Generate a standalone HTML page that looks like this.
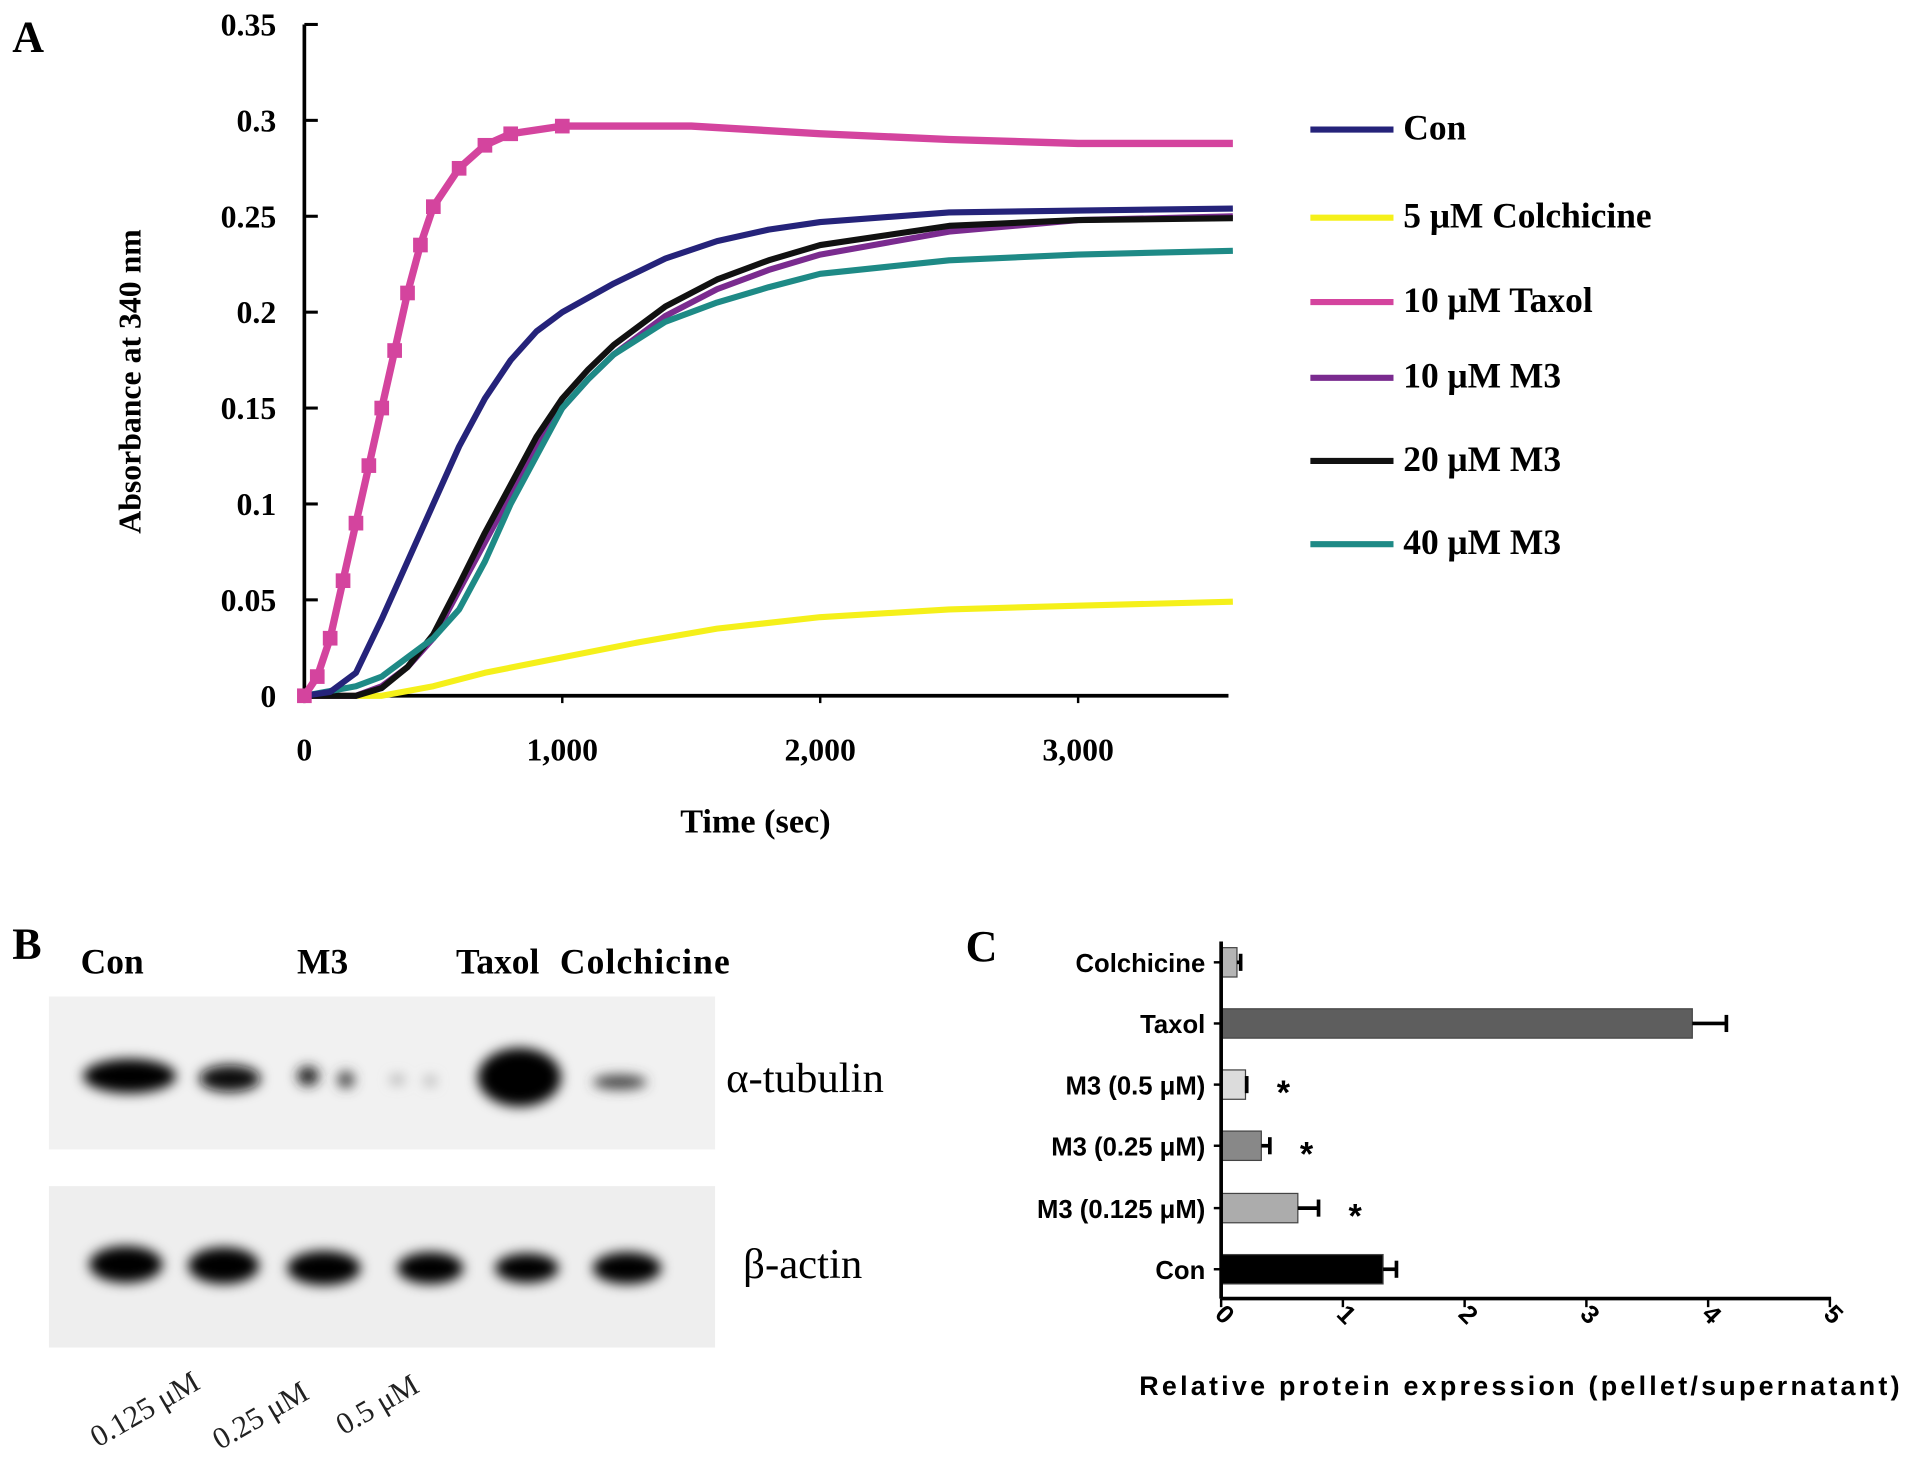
<!DOCTYPE html>
<html><head><meta charset="utf-8"><style>
html,body{margin:0;padding:0;background:#fff;}
svg{display:block;}
.serif{font-family:"Liberation Serif",serif;font-weight:bold;}
.sans{font-family:"Liberation Sans",sans-serif;font-weight:bold;}
</style></head><body>
<svg id="fig" width="1913" height="1460" viewBox="0 0 1565 1194" preserveAspectRatio="none" xmlns="http://www.w3.org/2000/svg">
<defs>
<filter id="blur" x="-50%" y="-50%" width="200%" height="200%"><feGaussianBlur stdDeviation="5"/></filter>
</defs>
<text x="10" y="42" class="serif" font-size="36">A</text>
<g id="chartA"></g>
<text x="618" y="681" class="serif" font-size="28" text-anchor="middle">Time (sec)</text>
<text transform="translate(115,312) rotate(-90)" class="serif" font-size="26" text-anchor="middle">Absorbance at 340 nm</text>
<g id="legendA"></g>

<text x="10" y="784" class="serif" font-size="36">B</text>
<g class="serif" font-size="29">
<text x="66" y="796">Con</text>
<text x="243" y="796">M3</text>
<text x="373" y="796">Taxol</text>
<text x="458" y="796" textLength="139">Colchicine</text>
</g>
<g>
<rect x="40" y="815" width="545" height="125" fill="#f1f1f1"/>
<rect x="40" y="970" width="545" height="132" fill="#eeeeee"/>
<g filter="url(#blur)" fill="#000">
<ellipse cx="106" cy="880" rx="38" ry="14"/>
<ellipse cx="188" cy="882" rx="25" ry="11" fill="#111"/>
<ellipse cx="252" cy="880" rx="9" ry="8" fill="#222"/>
<ellipse cx="283" cy="883" rx="7" ry="7" fill="#444"/>
<ellipse cx="325" cy="883" rx="6" ry="4" fill="#aaa"/>
<ellipse cx="352" cy="884" rx="5" ry="4" fill="#aaa"/>
<ellipse cx="425" cy="881" rx="34" ry="24"/>
<ellipse cx="507" cy="885" rx="22" ry="6" fill="#444"/>
<ellipse cx="103" cy="1034" rx="30" ry="15"/>
<ellipse cx="183" cy="1035" rx="29" ry="15"/>
<ellipse cx="265" cy="1037" rx="30" ry="14"/>
<ellipse cx="352" cy="1037" rx="27" ry="13"/>
<ellipse cx="431" cy="1037" rx="26" ry="12"/>
<ellipse cx="513" cy="1037" rx="28" ry="13"/>
</g>
</g>
<text x="594" y="893" font-family="Liberation Serif,serif" font-size="35">α-tubulin</text>
<text x="608" y="1045" font-family="Liberation Serif,serif" font-size="35">β-actin</text>
<g font-family="Liberation Serif,serif" font-size="25" fill="#222">
<text transform="translate(80,1184) rotate(-30)">0.125 μM</text>
<text transform="translate(180,1186) rotate(-30)">0.25 μM</text>
<text transform="translate(281,1174) rotate(-30)">0.5 μM</text>
</g>

<text x="790" y="786" class="serif" font-size="36">C</text>
<g id="chartC"></g>
<text x="932" y="1141" class="sans" font-size="22" textLength="622">Relative protein expression  (pellet/supernatant)</text>

<script>
// ---------- Panel A data ----------
const seriesNames = ["Con","5 μM Colchicine","10 μM Taxol","10 μM M3","20 μM M3","40 μM M3"];
const seriesColors = ["#25237a","#f5f01a","#d4449e","#7a2b8f","#111111","#1e8a86"];
const timeCon = [0,100,200,300,400,500,600,700,800,900,1000,1200,1400,1600,1800,2000,2500,3000,3600];
const valsCon = [0,0.002,0.012,0.04,0.07,0.1,0.13,0.155,0.175,0.19,0.2,0.215,0.228,0.237,0.243,0.247,0.252,0.253,0.254];
const timeCol = [0,300,500,700,1000,1300,1600,2000,2500,3000,3600];
const valsCol = [0,0,0.005,0.012,0.02,0.028,0.035,0.041,0.045,0.047,0.049];
const timeTax = [0,50,100,150,200,250,300,350,400,450,500,600,700,800,1000,1500,2000,2500,3000,3600];
const valsTax = [0,0.01,0.03,0.06,0.09,0.12,0.15,0.18,0.21,0.235,0.255,0.275,0.287,0.293,0.297,0.297,0.293,0.29,0.288,0.288];
const timeM3 = [0,200,300,400,500,600,700,800,900,1000,1100,1200,1400,1600,1800,2000,2500,3000,3600];
const valsM3_10 = [0,0,0.005,0.015,0.03,0.055,0.08,0.105,0.13,0.15,0.165,0.178,0.198,0.212,0.222,0.23,0.242,0.248,0.25];
const valsM3_20 = [0,0,0.004,0.015,0.032,0.058,0.085,0.11,0.135,0.155,0.17,0.183,0.203,0.217,0.227,0.235,0.245,0.248,0.249];
const valsM3_40 = [0,0.005,0.01,0.02,0.03,0.045,0.07,0.1,0.125,0.15,0.165,0.178,0.195,0.205,0.213,0.22,0.227,0.23,0.232];
const yTicksA = [0,0.05,0.1,0.15,0.2,0.25,0.3,0.35];
const yTickLabelsA = ["0","0.05","0.1","0.15","0.2","0.25","0.3","0.35"];
const xTicksA = [0,1000,2000,3000];
const xTickLabelsA = ["0","1,000","2,000","3,000"];
// ---------- Panel C data ----------
const catsC = ["Colchicine","Taxol","M3 (0.5 μM)","M3 (0.25 μM)","M3 (0.125 μM)","Con"];
const valsC = [0.13,3.87,0.2,0.33,0.63,1.33];
const errsC = [0.03,0.28,0.01,0.07,0.17,0.11];
const starsC = ["","","*","*","*",""];
const colorsC = ["#b5b5b5","#5e5e5e","#dcdcdc","#888888","#acacac","#000000"];
const xTicksC = [0,1,2,3,4,5];

const NS="http://www.w3.org/2000/svg";
function mk(tag,attrs,parent,txt){const e=document.createElementNS(NS,tag);for(const k in attrs)e.setAttribute(k,attrs[k]);if(txt!==undefined)e.textContent=txt;parent.appendChild(e);return e;}

const xA=t=>249+t*0.211;
const yA=v=>569-v*(549/0.35);
const gA=document.getElementById('chartA');
let ax=mk('line',{x1:249,y1:20,x2:249,y2:569,stroke:'#000','stroke-width':3},gA);


ax=mk('line',{x1:249,y1:569,x2:1005,y2:569,stroke:'#000','stroke-width':3},gA);


yTicksA.forEach((v,i)=>{
  mk('line',{x1:249,y1:yA(v),x2:260,y2:yA(v),stroke:'#000','stroke-width':2.5},gA);
  const t=mk('text',{x:226,y:yA(v)+9,'text-anchor':'end','class':'serif','font-size':26},gA,yTickLabelsA[i]);
  
  
});
xTicksA.forEach((v,i)=>{
  mk('line',{x1:xA(v),y1:569,x2:xA(v),y2:575,stroke:'#000','stroke-width':2},gA);
  const t=mk('text',{x:xA(v),y:622,'text-anchor':'middle','class':'serif','font-size':26},gA,xTickLabelsA[i]);
  
  
});
const seriesData=[[timeCon,valsCon],[timeCol,valsCol],[timeTax,valsTax],[timeM3,valsM3_10],[timeM3,valsM3_20],[timeM3,valsM3_40]];
const drawOrder=[1,3,4,5,0,2];
drawOrder.forEach(si=>{
  const [ts,vs]=seriesData[si];
  const pts=ts.map((t,i)=>xA(t).toFixed(1)+','+yA(vs[i]).toFixed(1)).join(' ');
  const pl=mk('polyline',{points:pts,fill:'none',stroke:seriesColors[si],'stroke-width':si==2?6:5,'stroke-linejoin':'round'},gA);
  
  
  if(si==2){ts.forEach((t,i)=>{if(t<=1000){const m=mk('rect',{x:xA(t)-6,y:yA(vs[i])-6,width:12,height:12,fill:seriesColors[si]},gA);}});}
});
const gL=document.getElementById('legendA');
const legY=[104,176,245,307,375,443];
seriesNames.forEach((n,i)=>{
  const l=mk('line',{x1:1072,y1:legY[i]+2,x2:1140,y2:legY[i]+2,stroke:seriesColors[i],'stroke-width':5},gL);
  
  
  const t=mk('text',{x:1148,y:legY[i]+10,'class':'serif','font-size':29},gL,n);
  
  
});

const xC=v=>999+v*99.6;
const yC=[787,837,887,937,988,1038];
const gC=document.getElementById('chartC');
catsC.forEach((c,i)=>{
  const b=mk('rect',{x:xC(0),y:yC[i]-12,width:xC(valsC[i])-xC(0),height:24,fill:colorsC[i],stroke:'#444','stroke-width':1},gC);
  
  
  const xe=xC(valsC[i]+errsC[i]);
  mk('line',{x1:xC(valsC[i]),y1:yC[i],x2:xe,y2:yC[i],stroke:'#000','stroke-width':3},gC);
  mk('line',{x1:xe,y1:yC[i]-7,x2:xe,y2:yC[i]+7,stroke:'#000','stroke-width':3},gC);
  const t=mk('text',{x:986,y:yC[i]+8,'text-anchor':'end','class':'sans','font-size':21},gC,c);
  
  
  mk('line',{x1:993,y1:yC[i],x2:999,y2:yC[i],stroke:'#000','stroke-width':2},gC);
  if(starsC[i]){const s=mk('text',{x:xe+30,y:yC[i]+16,'class':'sans','font-size':28,'text-anchor':'middle'},gC,starsC[i]);}
});
let a2=mk('line',{x1:999,y1:770,x2:999,y2:1062,stroke:'#000','stroke-width':3},gC);


a2=mk('line',{x1:999,y1:1062,x2:1498,y2:1062,stroke:'#000','stroke-width':3},gC);


xTicksC.forEach(v=>{
  mk('line',{x1:xC(v),y1:1062,x2:xC(v),y2:1069,stroke:'#000','stroke-width':2},gC);
  const t=mk('text',{transform:`translate(${xC(v)-2},${1080}) rotate(45)`,'text-anchor':'middle','class':'sans','font-size':21},gC,String(v));
  
  
});
</script>
</svg>
</body></html>
